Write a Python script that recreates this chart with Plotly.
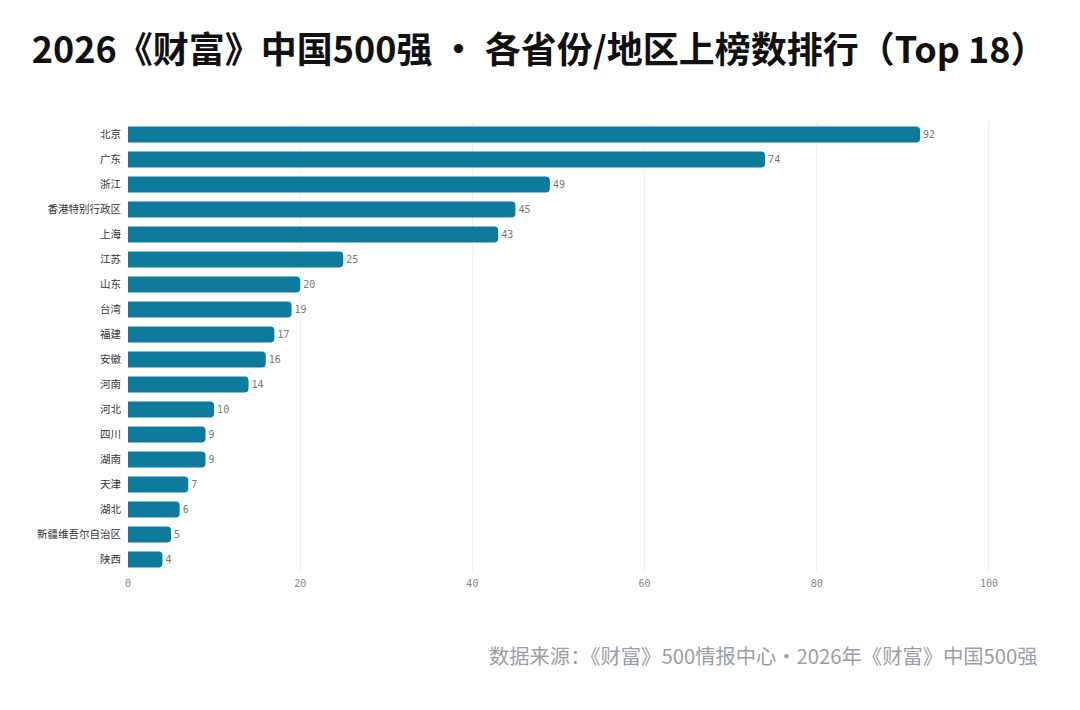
import plotly.graph_objects as go

regions = [
    "北京", "广东", "浙江", "香港特别行政区", "上海", "江苏", "山东", "台湾", "福建",
    "安徽", "河南", "河北", "四川", "湖南", "天津", "湖北", "新疆维吾尔自治区", "陕西",
]
counts = [92, 74, 49, 45, 43, 25, 20, 19, 17, 16, 14, 10, 9, 9, 7, 6, 5, 4]
x_ticks = [0, 20, 40, 60, 80, 100]

BAR = "#0f7b9c"
CJK = "Noto Sans CJK SC"
MONO = "DejaVu Sans Mono"

fig = go.Figure()
fig.add_trace(
    go.Bar(
        x=counts,
        y=regions,
        orientation="h",
        marker=dict(color=BAR, line=dict(width=0)),
        text=[str(c) for c in counts],
        textposition="outside",
        textfont=dict(family=MONO, size=10, color="#777777"),
        cliponaxis=False,
        hovertemplate="%{y}: %{x}<extra></extra>",
    )
)

fig.update_xaxes(
    range=[0, 105],
    tickvals=x_ticks,
    tickfont=dict(family=MONO, size=10, color="#888888"),
    showgrid=True,
    gridcolor="#eeeeee",
    gridwidth=1,
    zeroline=False,
    showline=False,
    ticks="",
    ticklabelstandoff=4,
)
fig.update_yaxes(
    autorange="reversed",
    tickfont=dict(family=CJK, size=10.5, color="#333333"),
    showgrid=False,
    showline=False,
    ticks="",
    ticklabelstandoff=6,
)

fig.update_layout(
    width=1080,
    height=710,
    margin=dict(l=120, r=56, t=114, b=146),
    paper_bgcolor="white",
    plot_bgcolor="white",
    bargap=0.36,
    barcornerradius=4,
    showlegend=False,
    title=dict(
        text="<b>2026《财富》中国500强 · 各省份/地区上榜数排行（Top 18）</b>",
        font=dict(family=CJK, size=36, color="#111111"),
        x=0.022,
        xanchor="left",
        y=0.94,
        yanchor="middle",
    ),
    annotations=[
        dict(
            text="数据来源：《财富》500情报中心·2026年《财富》中国500强",
            xref="paper",
            yref="paper",
            x=1.009,
            y=-0.185,
            xanchor="right",
            yanchor="middle",
            showarrow=False,
            font=dict(family=CJK, size=20.3, color="#9a9ea6"),
        )
    ],
)

fig.write_html("out.html")
